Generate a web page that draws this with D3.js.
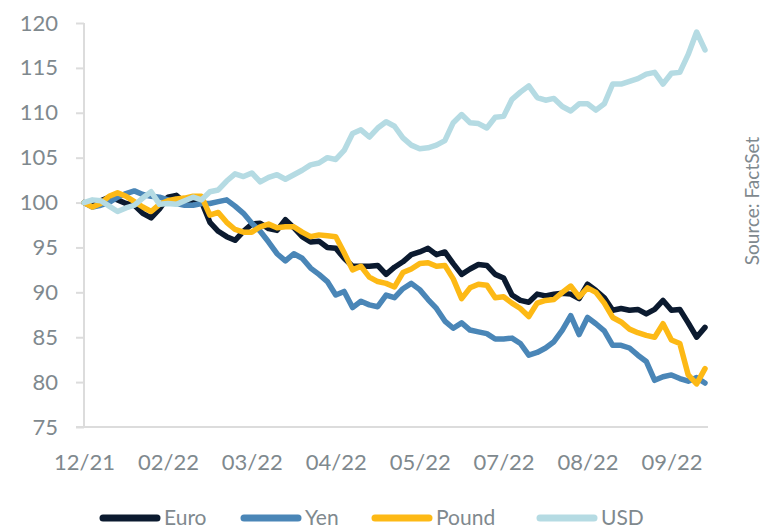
<!DOCTYPE html>
<html>
<head>
<meta charset="utf-8">
<script src="https://cdn.jsdelivr.net/npm/d3@7"></script>
<style>
  html, body { margin: 0; padding: 0; background: #fff; }
  svg { display: block; }
  text { font-family: Lato, "Source Sans Pro", "Noto Sans", sans-serif; fill: #7f898e; }
</style>
</head>
<body>
<svg id="chart" width="765" height="530"></svg>
<script>
// ---- Data (index, 12/2021 = 100) ----
const seriesNames = ["Euro", "Yen", "Pound", "USD"];
const xTickLabels = ["12/21", "02/22", "03/22", "04/22", "05/22", "07/22", "08/22", "09/22"];
const xTickIndex = [0, 10, 20, 30, 40, 50, 60, 70];
const yTicks = [75, 80, 85, 90, 95, 100, 105, 110, 115, 120];

const euro = [100.0, 99.6, 100.2, 100.6, 100.3, 99.9, 99.7, 98.8, 98.3, 99.3,
  100.6, 100.8, 100.0, 100.3, 100.1, 97.8, 96.8, 96.2, 95.8, 96.8,
  97.6, 97.7, 97.1, 96.9, 98.1, 97.2, 96.2, 95.6, 95.7, 95.0,
  94.9, 93.8, 92.9, 92.9, 92.9, 93.0, 92.0, 92.8, 93.4, 94.2,
  94.5, 94.9, 94.2, 94.5, 93.2, 92.0, 92.6, 93.1, 93.0, 92.0,
  91.6, 89.7, 89.1, 88.9, 89.8, 89.6, 89.8, 89.9, 89.8, 89.3,
  90.9, 90.2, 89.4, 88.0, 88.2, 88.0, 88.1, 87.6, 88.1, 89.1,
  88.0, 88.1, 86.6, 85.0, 86.1];

const yen = [100.0, 99.5, 99.7, 100.0, 100.6, 101.0, 101.3, 100.9, 100.7, 100.6,
  100.3, 99.9, 99.7, 99.7, 99.9, 99.9, 100.1, 100.3, 99.6, 98.8,
  97.7, 96.8, 95.6, 94.3, 93.5, 94.3, 93.8, 92.7, 92.0, 91.2,
  89.7, 90.1, 88.3, 89.0, 88.6, 88.4, 89.7, 89.4, 90.4, 91.0,
  90.3, 89.2, 88.2, 86.8, 86.0, 86.6, 85.8, 85.6, 85.4, 84.8,
  84.8, 84.9, 84.3, 83.0, 83.3, 83.8, 84.5, 85.8, 87.4, 85.3,
  87.2, 86.5, 85.7, 84.1, 84.1, 83.8, 83.0, 82.3, 80.2, 80.6,
  80.8, 80.4, 80.1, 80.5, 79.9];

const pound = [100.0, 99.5, 99.9, 100.7, 101.1, 100.7, 100.1, 99.5, 99.0, 99.8,
  100.2, 100.4, 100.5, 100.7, 100.7, 98.6, 98.9, 97.8, 97.0, 96.7,
  96.7, 97.3, 97.6, 97.2, 97.3, 97.3, 96.7, 96.2, 96.4, 96.3,
  96.2, 94.4, 92.5, 92.9, 91.7, 91.2, 91.0, 90.6, 92.2, 92.6,
  93.2, 93.3, 92.9, 93.0, 91.5, 89.3, 90.5, 90.9, 90.8, 89.4,
  89.5, 88.8, 88.2, 87.3, 88.8, 89.1, 89.2, 90.0, 90.7, 89.5,
  90.5, 90.0, 88.8, 87.2, 86.7, 85.9, 85.5, 85.2, 85.0, 86.5,
  84.7, 84.3, 80.8, 79.8, 81.5];

const usd = [100.0, 100.3, 100.2, 99.6, 99.0, 99.4, 99.7, 100.5, 101.2, 99.8,
  99.9, 99.8, 100.2, 100.6, 100.3, 101.2, 101.4, 102.4, 103.2, 102.9,
  103.3, 102.3, 102.8, 103.1, 102.6, 103.1, 103.6, 104.2, 104.4, 105.0,
  104.8, 105.8, 107.7, 108.1, 107.3, 108.3, 109.0, 108.5, 107.2, 106.4,
  106.0, 106.1, 106.4, 106.9, 108.9, 109.8, 108.9, 108.8, 108.3, 109.5,
  109.6, 111.5, 112.3, 113.0, 111.7, 111.4, 111.6, 110.7, 110.2, 111.0,
  111.0, 110.3, 111.0, 113.2, 113.2, 113.5, 113.8, 114.3, 114.5, 113.2,
  114.4, 114.5, 116.5, 119.0, 117.0];

const seriesValues = [euro, yen, pound, usd];
const seriesColors = ["#0b1a2f", "#4a86b7", "#fdb915", "#b5dbe3"];

// ---- Layout ----
const svg = d3.select("#chart");
const x = d3.scaleLinear().domain([0, euro.length - 1]).range([84, 705]);
const y = d3.scaleLinear().domain([75, 120]).range([427, 23]);
const axisColor = "#dcdcdc";

// Y axis
const yAxis = svg.append("g").attr("transform", "translate(84,0)")
  .call(d3.axisLeft(y).tickValues(yTicks).tickSize(8).tickPadding(18).tickFormat(d3.format("d")));
yAxis.select(".domain").attr("stroke", axisColor).attr("stroke-width", 2)
  .attr("d", `M0,${y(120)}V${y(75)}`);
yAxis.selectAll(".tick line").attr("stroke", axisColor).attr("stroke-width", 2);
yAxis.selectAll(".tick text").attr("font-size", 22).attr("fill", "#7f898e")
  .attr("font-family", "Lato, sans-serif");

// X axis
const xAxis = svg.append("g").attr("transform", `translate(0,${y(75)})`)
  .call(d3.axisBottom(x).tickValues(xTickIndex).tickSize(0).tickPadding(27)
    .tickFormat((d, i) => xTickLabels[i]));
xAxis.select(".domain").attr("stroke", axisColor).attr("stroke-width", 2)
  .attr("d", `M76,0H708`);
xAxis.selectAll(".tick text").attr("font-size", 22).attr("fill", "#7f898e")
  .attr("font-family", "Lato, sans-serif");

// Lines
const line = d3.line().x((d, i) => x(i)).y(d => y(d)).curve(d3.curveLinear);
seriesValues.forEach((vals, k) => {
  svg.append("path")
    .datum(vals)
    .attr("d", line)
    .attr("fill", "none")
    .attr("stroke", seriesColors[k])
    .attr("stroke-width", 5.5)
    .attr("stroke-linejoin", "round")
    .attr("stroke-linecap", "round");
});

// Source
svg.append("text")
  .attr("transform", "translate(759,201) rotate(-90)")
  .attr("text-anchor", "middle")
  .attr("font-size", 19)
  .text("Source: FactSet");

// Legend
const legendX = [100, 241, 372, 537];
const ly = 518;
seriesNames.forEach((name, k) => {
  const lx = legendX[k];
  const g = svg.append("g");
  g.append("line").attr("x1", lx + 3).attr("x2", lx + 57).attr("y1", ly).attr("y2", ly)
    .attr("stroke", seriesColors[k]).attr("stroke-width", 7).attr("stroke-linecap", "round");
  g.append("text").attr("x", lx + 64).attr("y", ly + 7)
    .attr("font-size", 21).text(name);
});
</script>
</body>
</html>
